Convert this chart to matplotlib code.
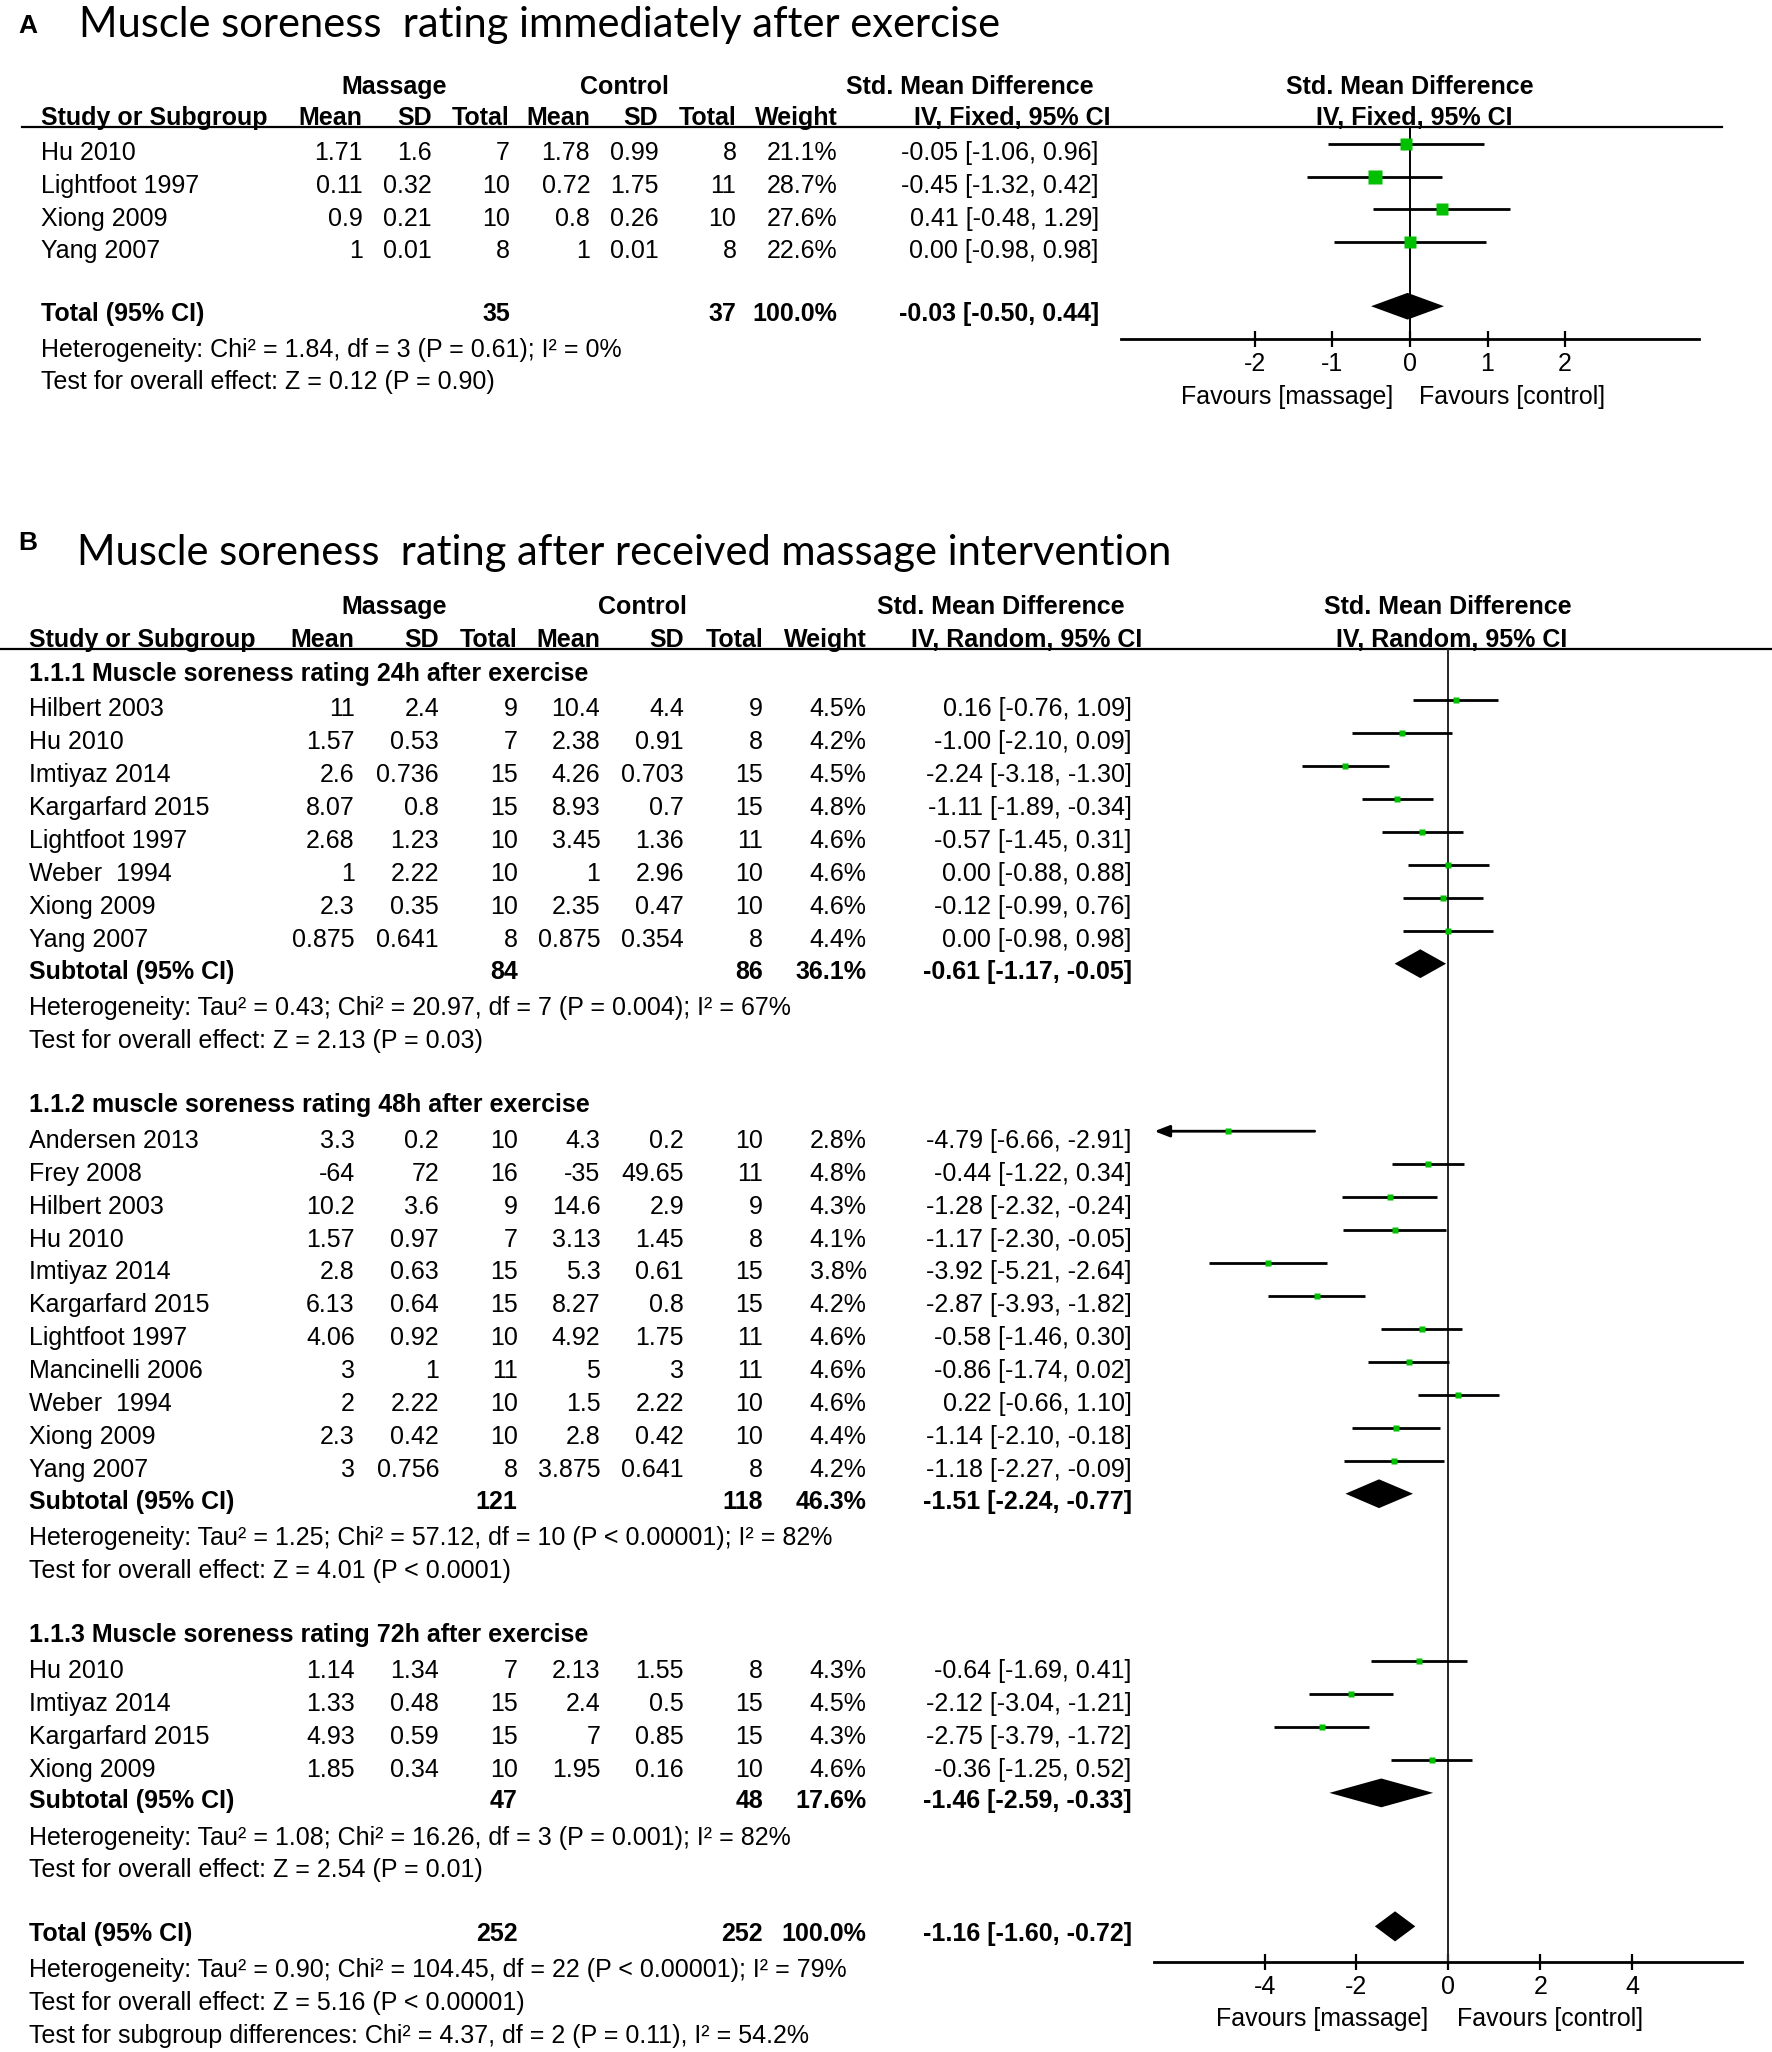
import math
import matplotlib
matplotlib.use('Agg')
import matplotlib.pyplot as plt

plt.rcParams['font.family'] = ['Liberation Sans Narrow', 'Liberation Sans', 'DejaVu Sans']

# ---------------- Panel A data ----------------
studies_a = ['Hu 2010', 'Lightfoot 1997', 'Xiong 2009', 'Yang 2007']
mean_m_a = [1.71, 0.11, 0.9, 1]
sd_m_a = [1.6, 0.32, 0.21, 0.01]
n_m_a = [7, 10, 10, 8]
mean_c_a = [1.78, 0.72, 0.8, 1]
sd_c_a = [0.99, 1.75, 0.26, 0.01]
n_c_a = [8, 11, 10, 8]
weight_a = [21.1, 28.7, 27.6, 22.6]
smd_a = [-0.05, -0.45, 0.41, 0.00]
lo_a = [-1.06, -1.32, -0.48, -0.98]
hi_a = [0.96, 0.42, 1.29, 0.98]
total_n_a = [35, 37]
total_ci_a = [-0.03, -0.50, 0.44]
het_a = 'Heterogeneity: Chi² = 1.84, df = 3 (P = 0.61); I² = 0%'
test_a = 'Test for overall effect: Z = 0.12 (P = 0.90)'

# ---------------- Panel B data ----------------
group_b = [0] * 8 + [1] * 11 + [2] * 4
studies_b = ['Hilbert 2003', 'Hu 2010', 'Imtiyaz 2014', 'Kargarfard 2015', 'Lightfoot 1997',
             'Weber  1994', 'Xiong 2009', 'Yang 2007',
             'Andersen 2013', 'Frey 2008', 'Hilbert 2003', 'Hu 2010', 'Imtiyaz 2014',
             'Kargarfard 2015', 'Lightfoot 1997', 'Mancinelli 2006', 'Weber  1994',
             'Xiong 2009', 'Yang 2007',
             'Hu 2010', 'Imtiyaz 2014', 'Kargarfard 2015', 'Xiong 2009']
mean_m_b = [11, 1.57, 2.6, 8.07, 2.68, 1, 2.3, 0.875,
            3.3, -64, 10.2, 1.57, 2.8, 6.13, 4.06, 3, 2, 2.3, 3,
            1.14, 1.33, 4.93, 1.85]
sd_m_b = [2.4, 0.53, 0.736, 0.8, 1.23, 2.22, 0.35, 0.641,
          0.2, 72, 3.6, 0.97, 0.63, 0.64, 0.92, 1, 2.22, 0.42, 0.756,
          1.34, 0.48, 0.59, 0.34]
n_m_b = [9, 7, 15, 15, 10, 10, 10, 8,
         10, 16, 9, 7, 15, 15, 10, 11, 10, 10, 8,
         7, 15, 15, 10]
mean_c_b = [10.4, 2.38, 4.26, 8.93, 3.45, 1, 2.35, 0.875,
            4.3, -35, 14.6, 3.13, 5.3, 8.27, 4.92, 5, 1.5, 2.8, 3.875,
            2.13, 2.4, 7, 1.95]
sd_c_b = [4.4, 0.91, 0.703, 0.7, 1.36, 2.96, 0.47, 0.354,
          0.2, 49.65, 2.9, 1.45, 0.61, 0.8, 1.75, 3, 2.22, 0.42, 0.641,
          1.55, 0.5, 0.85, 0.16]
n_c_b = [9, 8, 15, 15, 11, 10, 10, 8,
         10, 11, 9, 8, 15, 15, 11, 11, 10, 10, 8,
         8, 15, 15, 10]
weight_b = [4.5, 4.2, 4.5, 4.8, 4.6, 4.6, 4.6, 4.4,
            2.8, 4.8, 4.3, 4.1, 3.8, 4.2, 4.6, 4.6, 4.6, 4.4, 4.2,
            4.3, 4.5, 4.3, 4.6]
smd_b = [0.16, -1.00, -2.24, -1.11, -0.57, 0.00, -0.12, 0.00,
         -4.79, -0.44, -1.28, -1.17, -3.92, -2.87, -0.58, -0.86, 0.22, -1.14, -1.18,
         -0.64, -2.12, -2.75, -0.36]
lo_b = [-0.76, -2.10, -3.18, -1.89, -1.45, -0.88, -0.99, -0.98,
        -6.66, -1.22, -2.32, -2.30, -5.21, -3.93, -1.46, -1.74, -0.66, -2.10, -2.27,
        -1.69, -3.04, -3.79, -1.25]
hi_b = [1.09, 0.09, -1.30, -0.34, 0.31, 0.88, 0.76, 0.98,
        -2.91, 0.34, -0.24, -0.05, -2.64, -1.82, 0.30, 0.02, 1.10, -0.18, -0.09,
        0.41, -1.21, -1.72, 0.52]

sub_titles = ['1.1.1 Muscle soreness rating 24h after exercise',
              '1.1.2 muscle soreness rating 48h after exercise',
              '1.1.3 Muscle soreness rating 72h after exercise']
sub_n_m = [84, 121, 47]
sub_n_c = [86, 118, 48]
sub_weight = [36.1, 46.3, 17.6]
sub_smd = [-0.61, -1.51, -1.46]
sub_lo = [-1.17, -2.24, -2.59]
sub_hi = [-0.05, -0.77, -0.33]
sub_het = ['Heterogeneity: Tau² = 0.43; Chi² = 20.97, df = 7 (P = 0.004); I² = 67%',
           'Heterogeneity: Tau² = 1.25; Chi² = 57.12, df = 10 (P < 0.00001); I² = 82%',
           'Heterogeneity: Tau² = 1.08; Chi² = 16.26, df = 3 (P = 0.001); I² = 82%']
sub_test = ['Test for overall effect: Z = 2.13 (P = 0.03)',
            'Test for overall effect: Z = 4.01 (P < 0.0001)',
            'Test for overall effect: Z = 2.54 (P = 0.01)']
total_n_b = [252, 252]
total_ci_b = [-1.16, -1.60, -0.72]
total_text_b = ['Heterogeneity: Tau² = 0.90; Chi² = 104.45, df = 22 (P < 0.00001); I² = 79%',
                'Test for overall effect: Z = 5.16 (P < 0.00001)',
                'Test for subgroup differences: Chi² = 4.37, df = 2 (P = 0.11), I² = 54.2%']

# ---------------- layout ----------------
W, H = 1354, 1568
FS = 18
GREEN = '#00c000'

fig = plt.figure(figsize=(17.72, 20.52), dpi=100)
bg = fig.add_axes([0, 0, 1, 1])
bg.set_xlim(0, W)
bg.set_ylim(H, 0)
bg.axis('off')


def txt(x, y, s, ha='right', bold=False, size=FS, **kw):
    bg.text(x, y + 6.5, s, ha=ha, va='baseline', fontsize=size,
            fontweight='bold' if bold else 'normal', **kw)


def fmt(v):
    return f'{v:g}'


def ci(e, l, h):
    return f'{e:.2f} [{l:.2f}, {h:.2f}]'


def forest_axes(x0, x1, y0, y1, lim, ticks):
    ax = fig.add_axes([x0 / W, 1 - y1 / H, (x1 - x0) / W, (y1 - y0) / H])
    ax.set_xlim(-lim, lim)
    ax.set_ylim(y1, y0)
    ax.patch.set_alpha(0)
    for s in ['top', 'left', 'right']:
        ax.spines[s].set_visible(False)
    ax.spines['bottom'].set_linewidth(2)
    ax.set_xticks(ticks)
    ax.set_xticklabels([str(t) for t in ticks])
    ax.set_yticks([])
    ax.tick_params(axis='x', direction='inout', length=11, width=1.6, labelsize=FS, pad=4)
    ax.axvline(0, color='black', lw=1.4, zorder=1)
    return ax


def draw_study(ax, y, e, l, h, w, k):
    xmin = ax.get_xlim()[0]
    if l < xmin:
        ax.annotate('', xy=(xmin, y), xytext=(h, y),
                    arrowprops=dict(arrowstyle='-|>,head_length=0.9,head_width=0.35',
                                    color='black', lw=2, shrinkA=0, shrinkB=0))
    else:
        ax.plot([l, h], [y, y], color='black', lw=2, solid_capstyle='butt', zorder=2)
    ax.plot(e, y, 's', color=GREEN, ms=k * math.sqrt(w), mec='none', zorder=3)


def draw_diamond(ax, y, e, l, h, hh):
    ax.fill([l, e, h, e], [y, y - hh, y, y + hh], color='black', lw=0, zorder=3)


OFF = -6  # forest marks sit slightly above the text centre

# ================= Panel A =================
txt(14, 19, 'A', ha='left', bold=True, size=19, family='Liberation Sans')
txt(60, 21.5, 'Muscle soreness  rating immediately after exercise', ha='left', size=30, family='Lato')

col_a = [277, 330, 389.6, 451, 503, 562.7, 640]
txt(301, 65, 'Massage', ha='center', bold=True)
txt(477, 65, 'Control', ha='center', bold=True)
txt(741, 65, 'Std. Mean Difference', ha='center', bold=True)
txt(1077, 65, 'Std. Mean Difference', ha='center', bold=True)
txt(31.7, 89, 'Study or Subgroup', ha='left', bold=True)
for x, s in zip(col_a, ['Mean', 'SD', 'Total', 'Mean', 'SD', 'Total', 'Weight']):
    txt(x, 89, s, bold=True)
txt(848.7, 89, 'IV, Fixed, 95% CI', bold=True)
txt(1081, 89, 'IV, Fixed, 95% CI', ha='center', bold=True)
bg.plot([16.7, 1315.8], [96.8, 96.8], color='black', lw=1.6)

rows_a = [116 + 25 * i for i in range(len(studies_a))]
for i, y in enumerate(rows_a):
    txt(31.7, y, studies_a[i], ha='left')
    vals = [fmt(mean_m_a[i]), fmt(sd_m_a[i]), str(n_m_a[i]), fmt(mean_c_a[i]),
            fmt(sd_c_a[i]), str(n_c_a[i]), f'{weight_a[i]:.1f}%']
    for x, s in zip(col_a, vals):
        txt(x, y, s)
    txt(839.6, y, ci(smd_a[i], lo_a[i], hi_a[i]))

y_tot_a = 239
txt(31.7, y_tot_a, 'Total (95% CI)', ha='left', bold=True)
txt(col_a[2], y_tot_a, str(total_n_a[0]), bold=True)
txt(col_a[5], y_tot_a, str(total_n_a[1]), bold=True)
txt(col_a[6], y_tot_a, '100.0%', bold=True)
txt(839.6, y_tot_a, ci(*total_ci_a), bold=True)
txt(31.7, 266, het_a, ha='left')
txt(31.7, 291, test_a, ha='left')

axA = forest_axes(856.6, 1298, 96.8, 259, 3.72, [-2, -1, 0, 1, 2])
for i, y in enumerate(rows_a):
    draw_study(axA, y + OFF, smd_a[i], lo_a[i], hi_a[i], weight_a[i], 1.75)
draw_diamond(axA, y_tot_a - 5, total_ci_a[0], total_ci_a[1], total_ci_a[2], 10.2)
txt(983.6, 302, 'Favours [massage]', ha='center')
txt(1155, 302, 'Favours [control]', ha='center')

# ================= Panel B =================
txt(14, 414, 'B', ha='left', bold=True, size=19, family='Liberation Sans')
txt(59, 425, 'Muscle soreness  rating after received massage intervention', ha='left', size=30, family='Lato')

col_b = [271, 335.5, 395.6, 458.7, 522.7, 583.2, 662.2]
CI_B = 864.6
txt(301.3, 463, 'Massage', ha='center', bold=True)
txt(490.7, 463, 'Control', ha='center', bold=True)
txt(765, 463, 'Std. Mean Difference', ha='center', bold=True)
txt(1106, 463, 'Std. Mean Difference', ha='center', bold=True)
txt(21.9, 488, 'Study or Subgroup', ha='left', bold=True)
for x, s in zip(col_b, ['Mean', 'SD', 'Total', 'Mean', 'SD', 'Total', 'Weight']):
    txt(x, 488, s, bold=True)
txt(873, 488, 'IV, Random, 95% CI', bold=True)
txt(1109, 488, 'IV, Random, 95% CI', ha='center', bold=True)
bg.plot([0, W], [496, 496], color='black', lw=1.6)

axB = forest_axes(882.1, 1331.3, 496, 1499, 6.4, [-4, -2, 0, 2, 4])
axB.axvline(0, color='#333333', lw=1.2)

STEP = 25.2
y = 514
for g in range(3):
    txt(21.9, y, sub_titles[g], ha='left', bold=True)
    y += 27
    idx = [i for i in range(len(group_b)) if group_b[i] == g]
    for j, i in enumerate(idx):
        yy = y + j * STEP
        txt(21.9, yy, studies_b[i], ha='left')
        vals = [fmt(mean_m_b[i]), fmt(sd_m_b[i]), str(n_m_b[i]), fmt(mean_c_b[i]),
                fmt(sd_c_b[i]), str(n_c_b[i]), f'{weight_b[i]:.1f}%']
        for x, s in zip(col_b, vals):
            txt(x, yy, s)
        txt(CI_B, yy, ci(smd_b[i], lo_b[i], hi_b[i]))
        draw_study(axB, yy + OFF, smd_b[i], lo_b[i], hi_b[i], weight_b[i], 2.2)
    y = y + (len(idx) - 1) * STEP + 24
    txt(21.9, y, 'Subtotal (95% CI)', ha='left', bold=True)
    txt(col_b[2], y, str(sub_n_m[g]), bold=True)
    txt(col_b[5], y, str(sub_n_c[g]), bold=True)
    txt(col_b[6], y, f'{sub_weight[g]:.1f}%', bold=True)
    txt(CI_B, y, ci(sub_smd[g], sub_lo[g], sub_hi[g]), bold=True)
    draw_diamond(axB, y - 5, sub_smd[g], sub_lo[g], sub_hi[g], 11)
    y += 28
    txt(21.9, y, sub_het[g], ha='left')
    y += 25
    txt(21.9, y, sub_test[g], ha='left')
    y += 49

txt(21.9, y, 'Total (95% CI)', ha='left', bold=True)
txt(col_b[2], y, str(total_n_b[0]), bold=True)
txt(col_b[5], y, str(total_n_b[1]), bold=True)
txt(col_b[6], y, '100.0%', bold=True)
txt(CI_B, y, ci(*total_ci_b), bold=True)
draw_diamond(axB, y - 5, total_ci_b[0], total_ci_b[1], total_ci_b[2], 11.5)
for k, s in enumerate(total_text_b):
    txt(21.9, y + 27 + 25.5 * k, s, ha='left')

txt(1010.4, 1541.8, 'Favours [massage]', ha='center')
txt(1184.6, 1541.8, 'Favours [control]', ha='center')

fig.savefig('out.png', dpi=100, facecolor='white')
